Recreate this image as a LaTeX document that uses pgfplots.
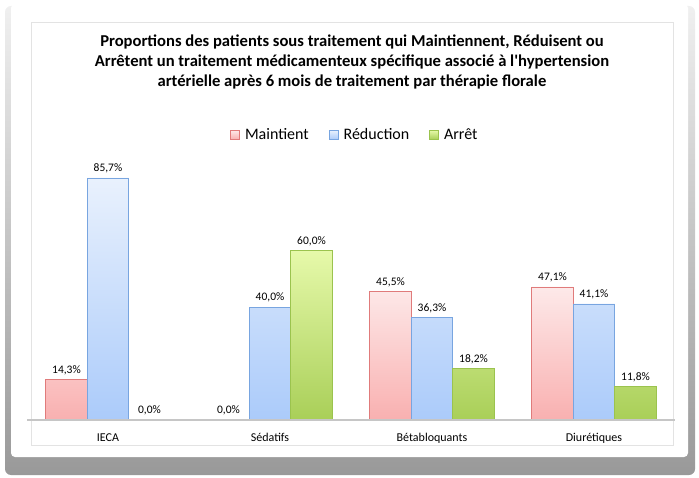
\documentclass[border=0pt]{standalone}
\usepackage{pgfplots}
\pgfplotsset{compat=1.18}
\usepackage{fontspec}
\setmainfont{Carlito}
\definecolor{rtop}{HTML}{FDE9E9}
\definecolor{rbot}{HTML}{F9B0B0}
\definecolor{rline}{HTML}{E07B7B}
\definecolor{btop}{HTML}{E9F1FD}
\definecolor{bbot}{HTML}{ABCBFA}
\definecolor{bline}{HTML}{78A5E0}
\definecolor{gtop}{HTML}{E6F9AA}
\definecolor{gbot}{HTML}{A9CF58}
\definecolor{gline}{HTML}{9BC34E}
\begin{document}
\begin{tikzpicture}
\begin{scope}[x=1pt,y=-1pt,shift={(0pt,477pt)}]
\path (0,0) rectangle (699,477);
% card shadow
\shade[top color=gray!12, bottom color=gray!80, rounded corners=6pt] (5,6) rectangle (695,475);
\fill[white, rounded corners=4pt] (11,4) rectangle (688,457);
\draw[gray!22, line width=0.6pt] (31,22) rectangle (673,445);
\node[font=\bfseries\fontsize{16.6}{20}\selectfont, align=center] at (352,62)
 {Proportions des patients sous traitement qui Maintiennent, Réduisent ou\\
  Arrêtent un traitement médicamenteux spécifique associé à l\textquotesingle hypertension\\
  artérielle après 6 mois de traitement par thérapie florale};
\end{scope}
\begin{axis}[
  at={(27pt,57pt)}, anchor=south west,
  scale only axis, width=648pt, height=282.4pt,
  ybar=0pt, bar width=41.5pt,
  xmin=-0.5, xmax=3.5, ymin=0, ymax=100,
  xtick={0,1,2,3},
  xticklabels={IECA,Sédatifs,Bétabloquants,Diurétiques},
  major tick length=0pt,
  axis y line=none,
  axis x line*=bottom,
  axis on top,
  x axis line style={gray!45, line width=1.2pt, -},
  xticklabel style={font=\fontsize{12}{14}\selectfont, yshift=-10pt},
  nodes near coords={\pgfmathprintnumber{\pgfplotspointmeta}\%},
  nodes near coords style={font=\fontsize{11.5}{13}\selectfont, black, yshift=1pt,
    /pgf/number format/.cd, fixed, fixed zerofill, precision=1, use comma, assume math mode=true},
  legend columns=3,
  legend style={at={(0.506,1.01)}, anchor=center, draw=none, fill=none,
    font=\fontsize{16}{18}\selectfont,
    /tikz/every odd column/.append style={column sep=3pt},
    /tikz/every even column/.append style={column sep=18pt}},
  legend image code/.code={\draw[#1] (0pt,-4.5pt) rectangle (9pt,4.5pt);},
  clip=false,
]
\addplot[draw=rline, top color=rtop, bottom color=rbot, line width=0.8pt] coordinates {(0,14.3) (1,0) (2,45.5) (3,47.1)};
\addplot[draw=bline, top color=btop, bottom color=bbot, line width=0.8pt] coordinates {(0,85.7) (1,40.0) (2,36.3) (3,41.1)};
\addplot[draw=gline, top color=gtop, bottom color=gbot, line width=0.8pt] coordinates {(0,0) (1,60.0) (2,18.2) (3,11.8)};
\legend{Maintient,Réduction,Arrêt}
\end{axis}
\end{tikzpicture}
\end{document}
